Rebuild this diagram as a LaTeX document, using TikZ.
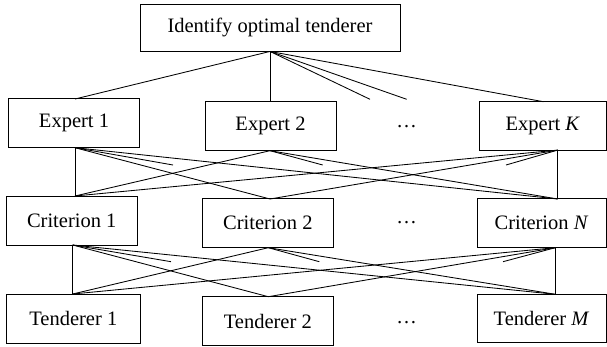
\documentclass[tikz,border=0pt]{standalone}
\usepackage{fontspec}
\setmainfont{Liberation Serif}
\begin{document}
\begin{tikzpicture}[x={(1pt,0)},y={(0,-1pt)},
  box/.style={draw,line width=0.9pt,inner sep=0pt,font=\fontsize{20.5}{24}\selectfont},
  link/.style={line width=0.85pt},
  dotsnode/.style={inner sep=0pt,font=\fontsize{20.5}{24}\selectfont}]
\useasboundingbox (0,0) rectangle (607,347);
% boxes
\node[box,minimum width=260pt,minimum height=47pt] (top) at (270,27.5) {Identify optimal tenderer};
\node[box,minimum width=131pt,minimum height=48.7pt] (e1) at (74,123.3) {Expert 1};
\node[box,minimum width=131pt,minimum height=49pt] (e2) at (270.5,126.2) {Expert 2};
\node[box,minimum width=126.5pt,minimum height=48.3pt] (eK) at (542.8,125.9) {Expert \textit{K}};
\node[box,minimum width=131.3pt,minimum height=49pt] (c1) at (71.7,220.5) {Criterion 1};
\node[box,minimum width=131pt,minimum height=48.7pt] (c2) at (267.8,223.3) {Criterion 2};
\node[box,minimum width=129pt,minimum height=48.7pt] (cN) at (541.5,223.3) {Criterion \textit{N}};
\node[box,minimum width=133.3pt,minimum height=49.3pt] (t1) at (73.3,318.7) {Tenderer 1};
\node[box,minimum width=131pt,minimum height=49pt] (t2) at (267.8,321.2) {Tenderer 2};
\node[box,minimum width=129pt,minimum height=48.4pt] (tM) at (541.5,318.5) {Tenderer \textit{M}};
% dots
\node[dotsnode] (d1) at (406.7,126.7) {\ldots};
\node[dotsnode] (d2) at (406.7,222.7) {\ldots};
\node[dotsnode] (d3) at (406.7,322.7) {\ldots};
% anchor points on borders
\coordinate (e1t) at (75,99);
\coordinate (e2t) at (270,101.7);
\coordinate (eKt) at (543.3,101.7);
\coordinate (e1b) at (75,147.7);
\coordinate (e2b) at (270,150.7);
\coordinate (eKb) at (557.7,150.1);
\coordinate (c1t) at (75,196);
\coordinate (c2t) at (270,199);
\coordinate (cNt) at (557.7,199);
\coordinate (c1b) at (72.7,245);
\coordinate (c2b) at (268.3,247.7);
\coordinate (cNb) at (555.3,247.7);
\coordinate (t1t) at (72.7,294);
\coordinate (t2t) at (268.3,296.7);
\coordinate (tMt) at (555.3,294.3);
% free ends of partial lines
\coordinate (p1) at (370,99.3);
\coordinate (p2) at (406.7,99.3);
\coordinate (q1) at (173,165);
\coordinate (q2) at (322.7,165);
\coordinate (q3) at (506,165);
\coordinate (r1) at (171,261.7);
\coordinate (r2) at (319.3,261.7);
\coordinate (r3) at (503,261.7);
% top to experts
\draw[link] (top.south) -- (e1t);
\draw[link] (top.south) -- (e2t);
\draw[link] (top.south) -- (eKt);
\draw[link] (top.south) -- (p1);
\draw[link] (top.south) -- (p2);
% experts to criteria
\draw[link] (e1b) -- (c1t);
\draw[link] (e1b) -- (c2t);
\draw[link] (e1b) -- (cNt);
\draw[link] (e1b) -- (q1);
\draw[link] (e2b) -- (c1t);
\draw[link] (e2b) -- (cNt);
\draw[link] (e2b) -- (q2);
\draw[link] (eKb) -- (c1t);
\draw[link] (eKb) -- (c2t);
\draw[link] (eKb) -- (cNt);
\draw[link] (eKb) -- (q3);
% criteria to tenderers
\draw[link] (c1b) -- (t1t);
\draw[link] (c1b) -- (t2t);
\draw[link] (c1b) -- (tMt);
\draw[link] (c1b) -- (r1);
\draw[link] (c2b) -- (t1t);
\draw[link] (c2b) -- (tMt);
\draw[link] (c2b) -- (r2);
\draw[link] (cNb) -- (t1t);
\draw[link] (cNb) -- (t2t);
\draw[link] (cNb) -- (tMt);
\draw[link] (cNb) -- (r3);
\end{tikzpicture}
\end{document}
